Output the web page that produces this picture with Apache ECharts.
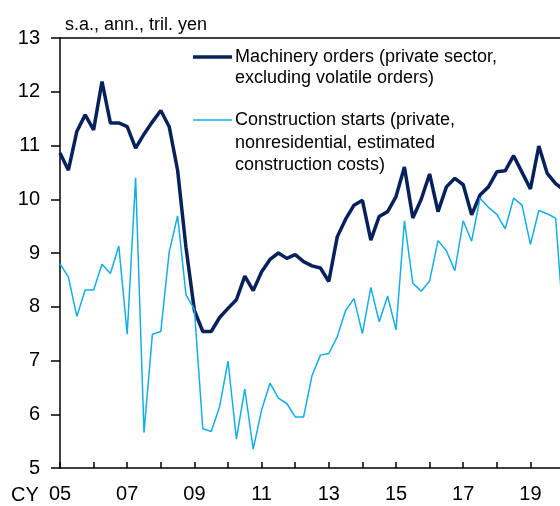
<!DOCTYPE html>
<html>
<head>
<meta charset="utf-8">
<script src="https://cdn.jsdelivr.net/npm/echarts@6/dist/echarts.min.js"></script>
<style>
html,body{margin:0;padding:0;background:#fff;}
#chart{width:560px;height:506px;}
</style>
</head>
<body>
<div id="chart"></div>
<script>
// Quarterly categories 2005Q1 .. 2020Q1
var categories = [];
for (var y = 2005; y <= 2020; y++) {
  for (var q = 1; q <= 4; q++) {
    if (y === 2020 && q > 1) break;
    categories.push(y + 'Q' + q);
  }
}

// Machinery orders (private sector, excluding volatile orders), tril. yen
var machineryOrders = [
  10.86, 10.54, 11.26, 11.57, 11.29, 12.19, 11.42, 11.42,
  11.35, 10.95, 11.21, 11.44, 11.65, 11.35, 10.54, 9.10,
  7.93, 7.54, 7.54, 7.80, 7.97, 8.13, 8.57, 8.30,
  8.65, 8.88, 9.00, 8.90, 8.97, 8.84, 8.76, 8.72,
  8.47, 9.30, 9.63, 9.89, 9.98, 9.24, 9.68, 9.77,
  10.05, 10.60, 9.65, 10.00, 10.47, 9.77, 10.23, 10.39,
  10.27, 9.71, 10.08, 10.23, 10.51, 10.53, 10.81, 10.50,
  10.19, 10.99, 10.48, 10.29, 10.17
];

// Construction starts (private, nonresidential, estimated construction costs), tril. yen
var constructionStarts = [
  8.80, 8.55, 7.82, 8.31, 8.31, 8.79, 8.62, 9.13,
  7.49, 10.40, 5.66, 7.49, 7.54, 9.02, 9.69, 8.22,
  7.95, 5.73, 5.68, 6.14, 6.99, 5.54, 6.47, 5.35,
  6.08, 6.58, 6.30, 6.20, 5.95, 5.95, 6.72, 7.10,
  7.13, 7.44, 7.93, 8.15, 7.50, 8.36, 7.72, 8.20,
  7.57, 9.60, 8.44, 8.29, 8.48, 9.23, 9.04, 8.67,
  9.60, 9.22, 10.02, 9.85, 9.72, 9.45, 10.02, 9.89,
  9.16, 9.79, 9.73, 9.65, 7.55
];

var seriesNames = [
  'Machinery orders (private sector,\nexcluding volatile orders)',
  'Construction starts (private,\nnonresidential, estimated\nconstruction costs)'
];
var subtitle = 's.a., ann., tril. yen';

// category "YYYYQn" -> position on a continuous time axis (years)
function catToX(c) {
  return parseInt(c.slice(0, 4), 10) + (parseInt(c.slice(5), 10) - 1) / 4;
}
function pairs(values) {
  return values.map(function (v, i) { return [catToX(categories[i]), v]; });
}

var DARK = '#06215c';
var LIGHT = '#12aeea';
var FONT = '"Liberation Sans", Arial, sans-serif';
var X_MIN = 2005, X_MAX = 2019.88; // visible window of the original chart

var chart = echarts.init(document.getElementById('chart'), null, {renderer: 'canvas'});
chart.setOption({
  animation: false,
  backgroundColor: '#ffffff',
  grid: {left: 60, top: 38, right: 0, height: 430, show: false},
  xAxis: [
    {
      type: 'value', min: X_MIN, max: X_MAX, interval: 1,
      axisLine: {onZero: false, lineStyle: {color: '#000', width: 1.5}},
      axisTick: {show: true, inside: true, length: 6, lineStyle: {color: '#000', width: 1.5}},
      axisLabel: {
        margin: 16, color: '#000', fontSize: 20, fontFamily: FONT,
        showMaxLabel: false,
        formatter: function (v) {
          if (Math.abs(v - Math.round(v)) > 1e-6) return '';
          var yr = Math.round(v);
          if ((yr - 2005) % 2 !== 0) return '';
          return String(yr).slice(2);
        }
      },
      splitLine: {show: false}
    },
    {
      type: 'value', position: 'top', min: X_MIN, max: X_MAX,
      axisLine: {show: true, onZero: false, lineStyle: {color: '#000', width: 1.5}},
      axisTick: {show: false}, axisLabel: {show: false}, splitLine: {show: false}
    }
  ],
  yAxis: {
    type: 'value',
    min: 5, max: 13, interval: 1,
    axisLine: {show: true, onZero: false, lineStyle: {color: '#000', width: 1.5}},
    axisTick: {show: true, inside: false, length: 9, lineStyle: {color: '#000', width: 1.5}},
    axisLabel: {margin: 20, color: '#000', fontSize: 20, fontFamily: FONT},
    splitLine: {show: false}
  },
  series: [
    {
      name: seriesNames[0], type: 'line', data: pairs(machineryOrders), clip: true,
      symbol: 'none', lineStyle: {color: DARK, width: 3.5}, itemStyle: {color: DARK}, z: 2
    },
    {
      name: seriesNames[1], type: 'line', data: pairs(constructionStarts), clip: true,
      symbol: 'none', lineStyle: {color: LIGHT, width: 1.5}, itemStyle: {color: LIGHT}, z: 3
    }
  ],
  graphic: [
    {type: 'text', left: 65, top: 16, style: {text: subtitle, font: '18px ' + FONT, fill: '#000'}},
    {type: 'text', left: 11, top: 485, style: {text: 'CY', font: '20px ' + FONT, fill: '#000'}},
    {type: 'line', shape: {x1: 193, y1: 57, x2: 232, y2: 57}, style: {stroke: DARK, lineWidth: 3.5}},
    {type: 'text', x: 235, y: 46, style: {text: seriesNames[0], font: '18px ' + FONT, fill: '#000', lineHeight: 21.5, verticalAlign: 'top'}},
    {type: 'line', shape: {x1: 193, y1: 120, x2: 232, y2: 120}, style: {stroke: LIGHT, lineWidth: 1.5}},
    {type: 'text', x: 235, y: 109, style: {text: seriesNames[1], font: '18px ' + FONT, fill: '#000', lineHeight: 22.5, verticalAlign: 'top'}}
  ]
});
</script>
</body>
</html>
